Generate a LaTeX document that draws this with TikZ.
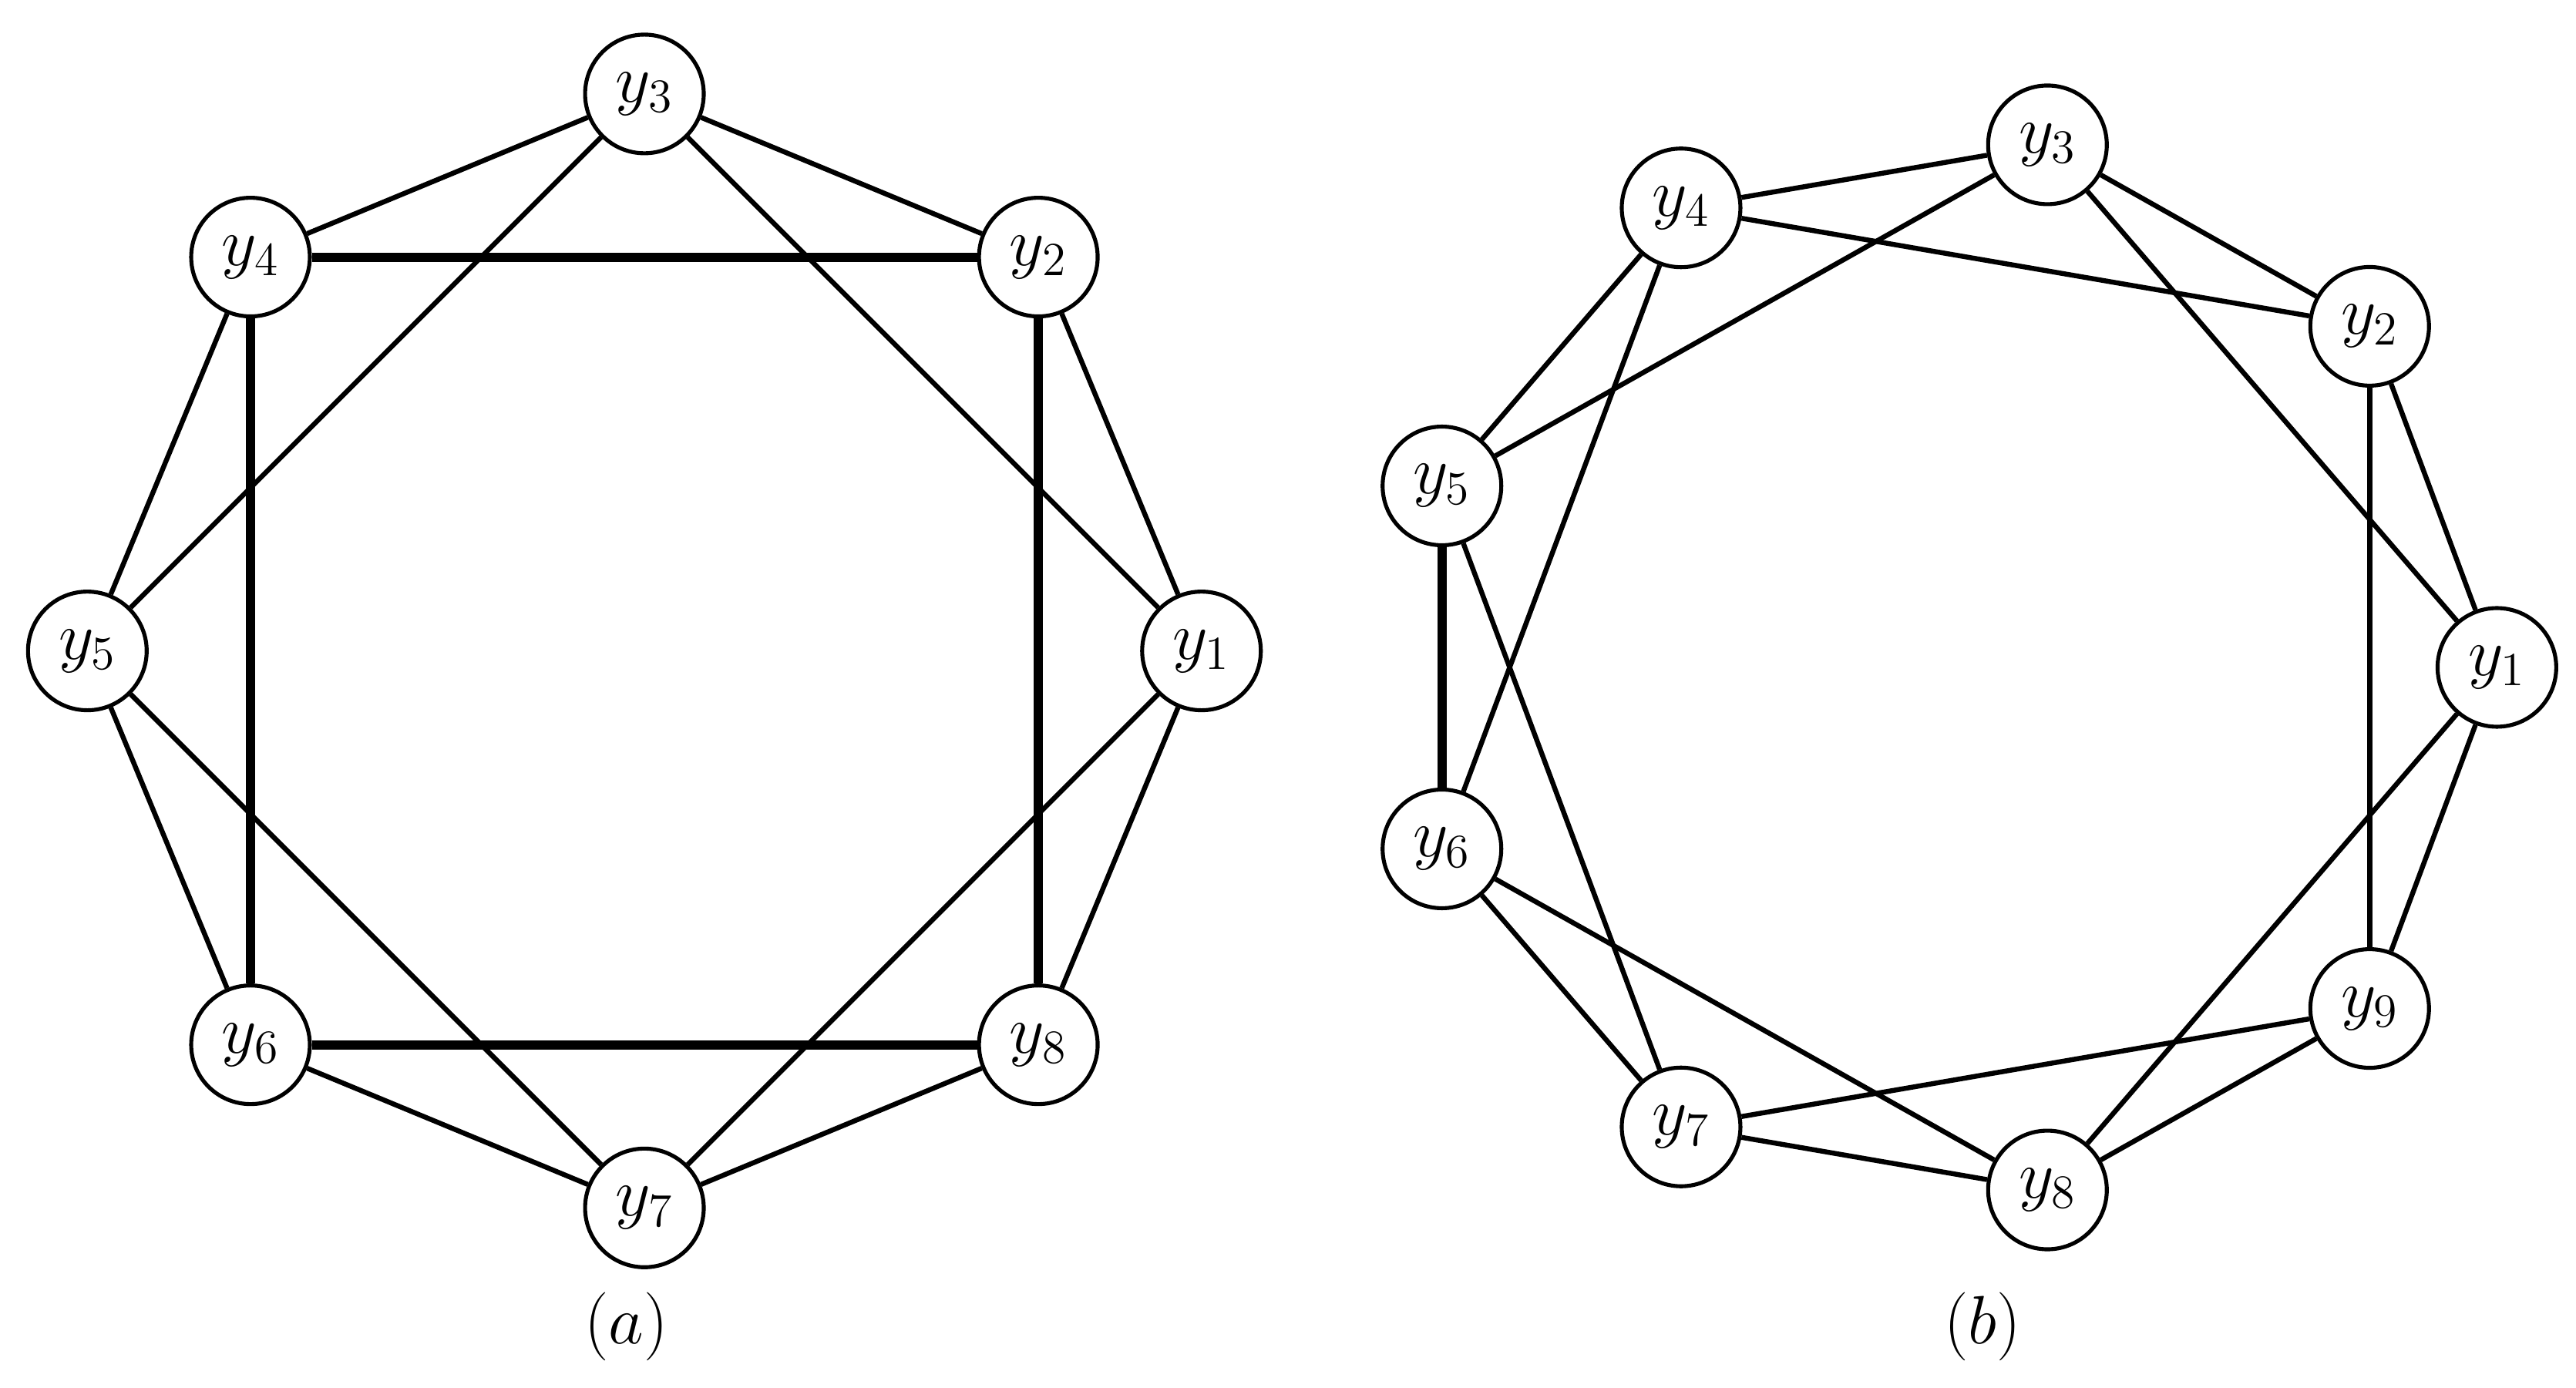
\documentclass[tikz,border=0pt]{standalone}
\begin{document}
\begin{tikzpicture}[x=0.5pt,y=-0.5pt,
  vtx/.style={circle,draw,line width=1.2pt,minimum size=36pt,inner sep=0pt,fill=white,font=\fontsize{20}{24}\selectfont},
  thinedge/.style={line width=1.5pt},
  thickedge/.style={line width=2.8pt},
  captxt/.style={font=\fontsize{20}{24}\selectfont}]
\useasboundingbox (0,0) rectangle (1563,842);
% (a)
\foreach \i in {1,...,8}{
  \node[vtx] (a\i) at ({391+338*cos(45*(\i-1))},{395-338*sin(45*(\i-1))}) {$y_{\i}$};
}
\foreach \i/\j in {1/2,2/3,3/4,4/5,5/6,6/7,7/8,8/1,1/3,3/5,5/7,7/1}{
  \draw[thinedge] (a\i) -- (a\j);
}
\foreach \i/\j in {2/4,4/6,6/8,8/2}{
  \draw[thickedge] (a\i) -- (a\j);
}
\node[captxt] (capa) at (380,805) {$(a)$};
% (b)
\foreach \i in {1,...,9}{
  \node[vtx] (b\i) at ({1185+330*cos(40*(\i-1))},{405-322*sin(40*(\i-1))}) {$y_{\i}$};
}
\foreach \i/\j in {1/2,2/3,3/4,4/5,6/7,7/8,8/9,9/1,1/3,2/4,3/5,4/6,5/7,6/8,7/9,8/1,9/2}{
  \draw[thinedge] (b\i) -- (b\j);
}
\draw[thickedge] (b5) -- (b6);
\node[captxt] (capb) at (1203,805) {$(b)$};
\end{tikzpicture}
\end{document}
